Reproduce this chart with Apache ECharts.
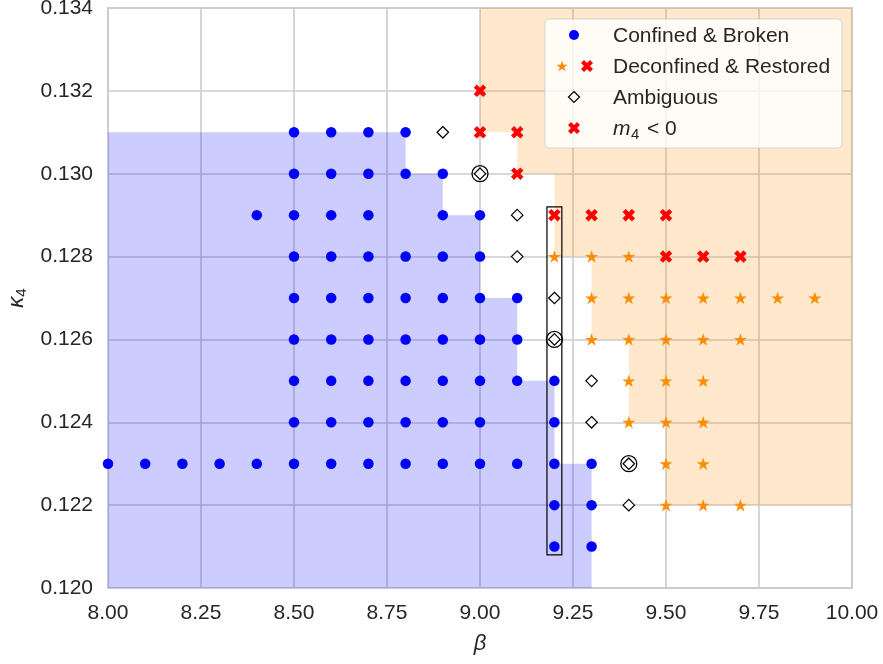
<!DOCTYPE html>
<html>
<head>
<meta charset="utf-8">
<script src="https://cdn.jsdelivr.net/npm/echarts@6/dist/echarts.min.js"></script>
<style>
  html, body { margin: 0; padding: 0; background: #ffffff; }
  #chart { width: 883px; height: 664px; }
</style>
</head>
<body>
<div id="chart"></div>
<script>
// Phase diagram of the lattice model in the (beta, kappa_4) plane.

// Axis ranges and tick spacing
const betaRange = [8.0, 10.0];
const betaStep = 0.25;
const kappaRange = [0.120, 0.134];
const kappaStep = 0.002;

// Simulated points: [beta, kappa_4]
const confinedPoints = [
  [8.5, 0.131], [8.6, 0.131], [8.7, 0.131], [8.8, 0.131],
  [8.5, 0.130], [8.6, 0.130], [8.7, 0.130], [8.8, 0.130], [8.9, 0.130],
  [8.4, 0.129], [8.5, 0.129], [8.6, 0.129], [8.7, 0.129], [8.9, 0.129], [9.0, 0.129],
  [8.5, 0.128], [8.6, 0.128], [8.7, 0.128], [8.8, 0.128], [8.9, 0.128], [9.0, 0.128],
  [8.5, 0.127], [8.6, 0.127], [8.7, 0.127], [8.8, 0.127], [8.9, 0.127], [9.0, 0.127], [9.1, 0.127],
  [8.5, 0.126], [8.6, 0.126], [8.7, 0.126], [8.8, 0.126], [8.9, 0.126], [9.0, 0.126], [9.1, 0.126],
  [8.5, 0.125], [8.6, 0.125], [8.7, 0.125], [8.8, 0.125], [8.9, 0.125], [9.0, 0.125], [9.1, 0.125], [9.2, 0.125],
  [8.5, 0.124], [8.6, 0.124], [8.7, 0.124], [8.8, 0.124], [8.9, 0.124], [9.0, 0.124], [9.2, 0.124],
  [8.0, 0.123], [8.1, 0.123], [8.2, 0.123], [8.3, 0.123], [8.4, 0.123], [8.5, 0.123], [8.6, 0.123],
  [8.7, 0.123], [8.8, 0.123], [8.9, 0.123], [9.0, 0.123], [9.1, 0.123], [9.2, 0.123], [9.3, 0.123],
  [9.2, 0.122], [9.3, 0.122],
  [9.2, 0.121], [9.3, 0.121]
];

const deconfinedPoints = [
  [9.2, 0.128], [9.3, 0.128], [9.4, 0.128],
  [9.3, 0.127], [9.4, 0.127], [9.5, 0.127], [9.6, 0.127], [9.7, 0.127], [9.8, 0.127], [9.9, 0.127],
  [9.3, 0.126], [9.4, 0.126], [9.5, 0.126], [9.6, 0.126], [9.7, 0.126],
  [9.4, 0.125], [9.5, 0.125], [9.6, 0.125],
  [9.4, 0.124], [9.5, 0.124], [9.6, 0.124],
  [9.5, 0.123], [9.6, 0.123],
  [9.5, 0.122], [9.6, 0.122], [9.7, 0.122]
];

const negativeMassPoints = [
  [9.0, 0.132],
  [9.0, 0.131], [9.1, 0.131],
  [9.1, 0.130],
  [9.2, 0.129], [9.3, 0.129], [9.4, 0.129], [9.5, 0.129],
  [9.5, 0.128], [9.6, 0.128], [9.7, 0.128]
];

const ambiguousPoints = [
  [8.9, 0.131], [9.0, 0.130], [9.1, 0.129], [9.1, 0.128], [9.2, 0.127],
  [9.2, 0.126], [9.3, 0.125], [9.3, 0.124], [9.4, 0.123], [9.4, 0.122]
];

// Ambiguous points singled out with a ring
const ringedPoints = [[9.0, 0.130], [9.2, 0.126], [9.4, 0.123]];

// Phase regions as step outlines: [beta, kappa_4] vertices
const confinedRegion = [
  [8.0, 0.120], [8.0, 0.131], [8.8, 0.131], [8.8, 0.130], [8.9, 0.130], [8.9, 0.129],
  [9.0, 0.129], [9.0, 0.127], [9.1, 0.127], [9.1, 0.125], [9.2, 0.125], [9.2, 0.123],
  [9.3, 0.123], [9.3, 0.120]
];
const deconfinedRegion = [
  [9.0, 0.134], [10.0, 0.134], [10.0, 0.122], [9.5, 0.122], [9.5, 0.124], [9.4, 0.124],
  [9.4, 0.126], [9.3, 0.126], [9.3, 0.128], [9.2, 0.128], [9.2, 0.130], [9.1, 0.130],
  [9.1, 0.131], [9.0, 0.131]
];

// Frame around the beta = 9.2 scan: opposite corners
const scanBox = [[9.18, 0.1208], [9.22, 0.1292]];

const FONT = '"Liberation Sans", Arial, sans-serif';
const TEXT = '#262626';
const GRID = '#cccccc';

const STAR = 'path://M0,-1L0.2245,-0.309L0.9511,-0.309L0.3633,0.118L0.5878,0.809L0,0.382L-0.5878,0.809L-0.3633,0.118L-0.9511,-0.309L-0.2245,-0.309Z';
const XFILL = 'path://M-1,-2L0,-1L1,-2L2,-1L1,0L2,1L1,2L0,1L-1,2L-2,1L-1,0L-2,-1Z';

function regionSeries(outline, fill) {
  return {
    type: 'custom',
    silent: true,
    z: 1,
    data: [0],
    renderItem: function (params, api) {
      return {
        type: 'polygon',
        shape: { points: outline.map(function (p) { return api.coord(p); }) },
        style: { fill: fill, stroke: null }
      };
    }
  };
}

// Legend glyph helpers (screen-space shapes for the legend box)
function starPts(cx, cy, r) {
  const pts = [];
  for (let i = 0; i < 10; i++) {
    const rr = i % 2 === 0 ? r : r * 0.381966;
    const a = -Math.PI / 2 + i * Math.PI / 5;
    pts.push([cx + rr * Math.cos(a), cy + rr * Math.sin(a)]);
  }
  return pts;
}
function xPts(cx, cy, s) {
  const base = [[-1,-2],[0,-1],[1,-2],[2,-1],[1,0],[2,1],[1,2],[0,1],[-1,2],[-2,1],[-1,0],[-2,-1]];
  return base.map(function (p) { return [cx + p[0] * s, cy + p[1] * s]; });
}

const legendX = 545, legendY = 19, legendW = 297, legendH = 129;
const rowY = [36, 67, 98, 129];
const textX = 613;
function legendText(y, str) {
  return {
    type: 'text', x: textX, y: y, z: 101,
    style: { text: str, fontSize: 21, fontFamily: FONT, fill: TEXT, verticalAlign: 'middle' }
  };
}

const chart = echarts.init(document.getElementById('chart'), null, { renderer: 'canvas' });

chart.setOption({
  animation: false,
  backgroundColor: '#ffffff',
  grid: {
    left: 108, right: 31, top: 8, bottom: 76,
    containLabel: false, outerBoundsMode: 'none',
    show: true, borderColor: GRID, borderWidth: 2, backgroundColor: 'transparent'
  },
  xAxis: {
    type: 'value',
    min: betaRange[0], max: betaRange[1], interval: betaStep,
    name: 'β', nameLocation: 'middle', nameGap: 45,
    nameTextStyle: { fontSize: 22, fontStyle: 'italic', fontFamily: FONT, color: TEXT },
    axisLine: { show: false },
    axisTick: { show: false },
    axisLabel: {
      margin: 15, fontSize: 21, fontFamily: FONT, color: TEXT,
      formatter: function (v) { return v.toFixed(2); }
    },
    splitLine: { show: true, lineStyle: { color: GRID, width: 1.6 } }
  },
  yAxis: {
    type: 'value',
    min: kappaRange[0], max: kappaRange[1], interval: kappaStep,
    name: '{k|κ}{s|4}', nameLocation: 'middle', nameGap: 79, nameRotate: 90,
    nameTextStyle: {
      fontFamily: FONT, color: TEXT,
      rich: {
        k: { fontSize: 22, fontStyle: 'italic', fontFamily: FONT, color: TEXT },
        s: { fontSize: 15, fontFamily: FONT, color: TEXT, padding: [9, 0, 0, 0] }
      }
    },
    axisLine: { show: false },
    axisTick: { show: false },
    axisLabel: {
      margin: 15, fontSize: 21, fontFamily: FONT, color: TEXT,
      formatter: function (v) { return v.toFixed(3); }
    },
    splitLine: { show: true, lineStyle: { color: GRID, width: 1.6 } }
  },
  series: [
    regionSeries(confinedRegion, 'rgba(0, 0, 255, 0.2)'),
    regionSeries(deconfinedRegion, 'rgba(255, 140, 0, 0.2)'),
    {
      type: 'custom',
      silent: true,
      z: 3,
      data: [0],
      renderItem: function (params, api) {
        const a = api.coord(scanBox[0]);
        const b = api.coord(scanBox[1]);
        return {
          type: 'rect',
          shape: { x: a[0], y: b[1], width: b[0] - a[0], height: a[1] - b[1] },
          style: { fill: 'none', stroke: '#000000', lineWidth: 1.2 }
        };
      }
    },
    {
      name: 'Confined & Broken', type: 'scatter', z: 4,
      symbol: 'circle', symbolSize: 10.5,
      itemStyle: { color: '#0000ff', opacity: 1 },
      data: confinedPoints
    },
    {
      name: 'Deconfined & Restored', type: 'scatter', z: 4,
      symbol: STAR, symbolSize: [13, 12.5],
      itemStyle: { color: '#ff8c00', opacity: 1 },
      data: deconfinedPoints
    },
    {
      name: 'm4 < 0', type: 'scatter', z: 4,
      symbol: XFILL, symbolSize: 12.5,
      itemStyle: { color: '#ff0000', opacity: 1 },
      data: negativeMassPoints
    },
    {
      name: 'Ambiguous', type: 'scatter', z: 4,
      symbol: 'diamond', symbolSize: [11.5, 11.5],
      itemStyle: { color: '#ffffff', borderColor: '#000000', borderWidth: 1.2, opacity: 1 },
      data: ambiguousPoints
    },
    {
      name: 'ring', type: 'scatter', z: 4,
      symbol: 'circle', symbolSize: 16,
      itemStyle: { color: 'rgba(0,0,0,0)', borderColor: '#000000', borderWidth: 1.3, opacity: 1 },
      data: ringedPoints
    }
  ],
  graphic: [
    {
      type: 'rect', z: 100,
      shape: { x: legendX, y: legendY, width: legendW, height: legendH, r: 4 },
      style: { fill: 'rgba(255,255,255,0.8)', stroke: 'rgba(204,204,204,0.8)', lineWidth: 1 }
    },
    { type: 'circle', z: 101, shape: { cx: 574, cy: 35, r: 5 }, style: { fill: '#0000ff' } },
    { type: 'polygon', z: 101, shape: { points: starPts(562, 66.5, 6) }, style: { fill: '#ff8c00' } },
    { type: 'polygon', z: 101, shape: { points: xPts(587, 66, 3) }, style: { fill: '#ff0000' } },
    {
      type: 'polygon', z: 101,
      shape: { points: [[574, 91.5], [579.5, 97], [574, 102.5], [568.5, 97]] },
      style: { fill: '#ffffff', stroke: '#000000', lineWidth: 1.2 }
    },
    { type: 'polygon', z: 101, shape: { points: xPts(574, 128, 3) }, style: { fill: '#ff0000' } },
    legendText(rowY[0], 'Confined & Broken'),
    legendText(rowY[1], 'Deconfined & Restored'),
    legendText(rowY[2], 'Ambiguous'),
    {
      type: 'text', x: textX, y: rowY[3], z: 101,
      style: { text: 'm', fontSize: 21, fontStyle: 'italic', fontFamily: FONT, fill: TEXT, verticalAlign: 'middle' }
    },
    {
      type: 'text', x: textX + 18, y: rowY[3] + 6, z: 101,
      style: { text: '4', fontSize: 15, fontFamily: FONT, fill: TEXT, verticalAlign: 'middle' }
    },
    {
      type: 'text', x: textX + 34, y: rowY[3], z: 101,
      style: { text: '< 0', fontSize: 21, fontFamily: FONT, fill: TEXT, verticalAlign: 'middle' }
    }
  ]
});
</script>
</body>
</html>
